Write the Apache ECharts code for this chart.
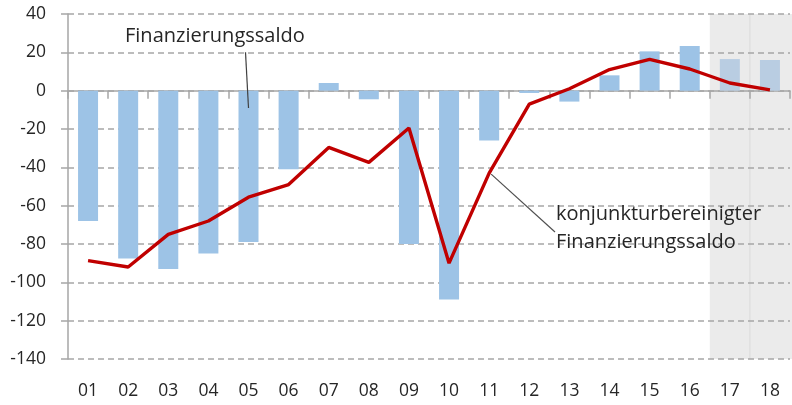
<!DOCTYPE html>
<html>
<head>
<meta charset="utf-8">
<script src="https://cdn.jsdelivr.net/npm/echarts@6/dist/echarts.min.js"></script>
<style>
html,body{margin:0;padding:0;background:#fff;}
#chart{width:792px;height:405px;}
</style>
</head>
<body>
<div id="chart"></div>
<script>
// Years (20xx)
const categories = ['01','02','03','04','05','06','07','08','09','10','11','12','13','14','15','16','17','18'];
// Finanzierungssaldo (bars)
const balance = [-68, -87.5, -93, -85, -79, -41, 4, -4.5, -80, -109, -26, -1.2, -5.7, 8, 20.5, 23.3, 16.5, 16];
// konjunkturbereinigter Finanzierungssaldo (line)
const adjustedBalance = [-88.7, -92, -75, -68, -55.6, -49, -29.6, -37.4, -19.5, -90, -43, -7, 1, 11, 16.3, 11.3, 4, 0.4];
// forecast years (shaded)
const forecastYears = ['17','18'];
const yTicks = {min: -140, max: 40, interval: 20};

const labelBalance = 'Finanzierungssaldo';
const labelAdjusted = ['konjunkturbereinigter', 'Finanzierungssaldo'];

const FONT = 'Open Sans';
const TXT = '#262626';
const AXC = '#a6a6a6';

const chart = echarts.init(document.getElementById('chart'), null, {renderer: 'canvas'});

const barData = balance.map((v, i) => ({
  value: v,
  itemStyle: {color: forecastYears.includes(categories[i]) ? '#b9cde2' : '#9dc3e6'}
}));

chart.setOption({
  animation: false,
  grid: {left: 68, right: 2, top: 14, bottom: 46, containLabel: false},
  xAxis: [{
    type: 'category',
    data: categories,
    axisLine: {onZero: true, lineStyle: {color: AXC, width: 1.5}},
    axisTick: {show: true, length: 8, lineStyle: {color: AXC, width: 1.5}},
    axisLabel: {show: false},
    splitLine: {show: false}
  }, {
    type: 'category',
    data: categories,
    position: 'bottom',
    axisLine: {show: false, onZero: false},
    axisTick: {show: false},
    axisLabel: {show: true, margin: 23, fontSize: 17.5, fontFamily: FONT, color: TXT}
  }],
  yAxis: {
    type: 'value',
    min: yTicks.min, max: yTicks.max, interval: yTicks.interval,
    axisLine: {show: true, lineStyle: {color: AXC, width: 1.5}},
    axisTick: {show: true, length: 7, lineStyle: {color: AXC, width: 1.5}},
    axisLabel: {margin: 22, fontSize: 17.5, fontFamily: FONT, color: TXT},
    splitLine: {show: true, lineStyle: {color: AXC, type: [6, 4], width: 1.5}}
  },
  series: [{
    name: labelBalance,
    type: 'bar',
    xAxisIndex: 0,
    data: barData,
    barWidth: 20,
    z: 2
  }, {
    name: labelAdjusted.join(' '),
    type: 'line',
    xAxisIndex: 0,
    data: adjustedBalance,
    showSymbol: false,
    symbol: 'none',
    lineStyle: {color: '#c00000', width: 3.4},
    z: 3
  }]
});

// annotations & forecast shading, positioned via the chart's own scales
const px = (c, v) => chart.convertToPixel({xAxisIndex: 0, yAxisIndex: 0}, [c, v]);
const c0 = px(categories[0], 0);
const c1 = px(categories[1], 0);
const band = c1[0] - c0[0];
const topY = px(categories[0], yTicks.max)[1];
const botY = px(categories[0], yTicks.min)[1];
const fStart = px(forecastYears[0], 0)[0] - band / 2;
const fMid = px(forecastYears[1], 0)[0] - band / 2;
const rightEdge = 792;

const p05a = px('05', 20);
const p05b = px('05', -9);
const p11 = px('11', adjustedBalance[10]);

const annFont = '20px "' + FONT + '"';

chart.setOption({
  graphic: [
    {type: 'rect', z: -10, silent: true,
     shape: {x: fStart, y: topY, width: rightEdge - fStart, height: botY - topY},
     style: {fill: '#ebebeb'}},
    {type: 'line', z: -9, silent: true,
     shape: {x1: fMid, y1: topY, x2: fMid, y2: botY},
     style: {stroke: '#dadada', lineWidth: 1}},
    {type: 'line', z: 10, silent: true,
     shape: {x1: p05a[0] - 3, y1: p05a[1], x2: p05b[0], y2: p05b[1]},
     style: {stroke: '#404040', lineWidth: 1.2}},
    {type: 'text', z: 10, silent: true,
     style: {x: 125, y: 36, text: labelBalance, fill: TXT, font: annFont,
             textAlign: 'left', textVerticalAlign: 'middle'}},
    {type: 'line', z: 10, silent: true,
     shape: {x1: p11[0] + 2, y1: p11[1] + 1, x2: 555, y2: 232},
     style: {stroke: '#505050', lineWidth: 1.2}},
    {type: 'text', z: 10, silent: true,
     style: {x: 556, y: 214, text: labelAdjusted[0], fill: TXT, font: annFont,
             textAlign: 'left', textVerticalAlign: 'middle'}},
    {type: 'text', z: 10, silent: true,
     style: {x: 556, y: 242, text: labelAdjusted[1], fill: TXT, font: annFont,
             textAlign: 'left', textVerticalAlign: 'middle'}}
  ]
});
</script>
</body>
</html>
